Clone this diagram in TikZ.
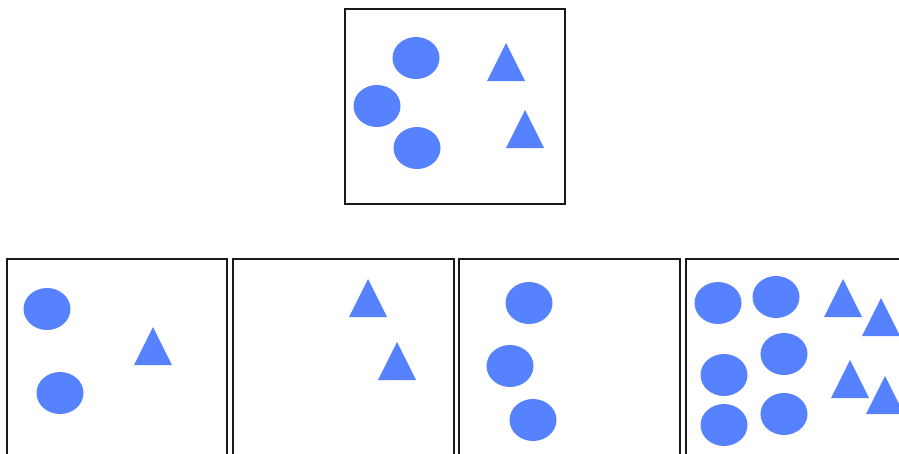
\documentclass[tikz,border=0pt]{standalone}
\usepackage{xcolor}
\usepackage{tikz}
\usetikzlibrary{shapes.geometric}

\definecolor{shapeblue}{HTML}{5681FF}

\begin{document}
\begin{tikzpicture}[
		x=1pt, y=-1pt,
		panel/.style={draw=black!90, line width=1.2pt, fill=none},
		blob/.style={ellipse, fill=shapeblue, draw=none, inner sep=0pt, minimum width=47pt, minimum height=42pt},
		shp/.style={fill=shapeblue, draw=none}
		]
		\useasboundingbox (0,0) rectangle (899,453);
		\clip (0,0) rectangle (899,453);
		% Panels: one on top, four in a row below (cut at the lower edge)
		\draw[panel] (345,9) rectangle (565,204);
		\draw[panel] (7,259) rectangle (227,456);
		\draw[panel] (233,259) rectangle (454,456);
		\draw[panel] (459,259) rectangle (680,456);
		\draw[panel] (686,259) rectangle (906,456);
		
		% Top panel
		\node[blob] (t1) at (416,58) {};
		\node[blob] (t2) at (377,106) {};
		\node[blob] (t3) at (417,148) {};
		\fill[shp] (506,43) -- ++(19,38) -- ++(-38,0) -- cycle;
		\fill[shp] (525,110) -- ++(19,38) -- ++(-38,0) -- cycle;
		
		% Panel 1
		\node[blob] (a1) at (47,309) {};
		\node[blob] (a2) at (60,393) {};
		\fill[shp] (153,327) -- ++(19,38) -- ++(-38,0) -- cycle;
		
		% Panel 2
		\fill[shp] (368,279) -- ++(19,38) -- ++(-38,0) -- cycle;
		\fill[shp] (397,342) -- ++(19,38) -- ++(-38,0) -- cycle;
		
		% Panel 3
		\node[blob] (c1) at (529,303) {};
		\node[blob] (c2) at (510,366) {};
		\node[blob] (c3) at (533,420) {};
		
		% Panel 4
		\node[blob] (d1) at (718,303) {};
		\node[blob] (d2) at (776,297) {};
		\node[blob] (d3) at (784,354) {};
		\node[blob] (d4) at (724,375) {};
		\node[blob] (d5) at (724,425) {};
		\node[blob] (d6) at (784,414) {};
		\fill[shp] (843,279) -- ++(19,38) -- ++(-38,0) -- cycle;
		\fill[shp] (881,298) -- ++(19,38) -- ++(-38,0) -- cycle;
		\fill[shp] (850,360) -- ++(19,38) -- ++(-38,0) -- cycle;
		\fill[shp] (885,376) -- ++(19,38) -- ++(-38,0) -- cycle;
	\end{tikzpicture}
\end{document}
